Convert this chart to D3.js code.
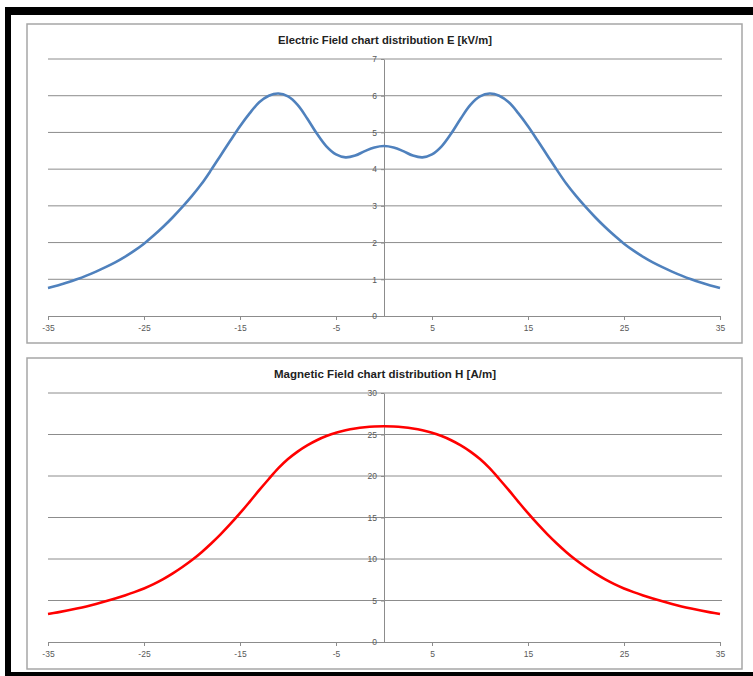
<!DOCTYPE html>
<html lang="en">
<head>
  <meta charset="UTF-8">
  <title>Field distribution</title>
  <style>
    body { margin: 0; background: #fff; }
    text { font-family: "Liberation Sans", Arial, sans-serif; }
  </style>
</head>
<body>
  <svg width="753" height="676"></svg>
  <script src="https://d3js.org/d3.v7.min.js"></script>
  <script>
    // distance along x (m)
    const xValues = [
      -35, -34, -33, -32, -31, -30, -29, -28, -27, -26, -25, -24, -23, -22, -21, -20, -19, -18,
      -17, -16, -15, -14, -13, -12, -11, -10, -9, -8, -7, -6, -5, -4, -3, -2, -1, 0,
      1, 2, 3, 4, 5, 6, 7, 8, 9, 10, 11, 12, 13, 14, 15, 16, 17, 18,
      19, 20, 21, 22, 23, 24, 25, 26, 27, 28, 29, 30, 31, 32, 33, 34, 35
    ];
    // E [kV/m]
    const eValues = [
      0.76, 0.83, 0.91, 1.00, 1.10, 1.21, 1.33, 1.46, 1.61, 1.78, 1.97, 2.19, 2.43, 2.69, 2.97, 3.27, 3.60, 3.98,
      4.38, 4.78, 5.17, 5.52, 5.82, 6.00, 6.06, 5.98, 5.75, 5.38, 4.97, 4.62, 4.40, 4.32, 4.37, 4.49, 4.59, 4.63,
      4.59, 4.49, 4.37, 4.32, 4.40, 4.62, 4.97, 5.38, 5.75, 5.98, 6.06, 6.00, 5.82, 5.52, 5.17, 4.78, 4.38, 3.98,
      3.60, 3.27, 2.97, 2.69, 2.43, 2.19, 1.97, 1.78, 1.61, 1.46, 1.33, 1.21, 1.10, 1.00, 0.91, 0.83, 0.76
    ];
    // H [A/m]
    const hValues = [
      3.37, 3.57, 3.79, 4.03, 4.29, 4.58, 4.90, 5.24, 5.61, 6.01, 6.45, 6.97, 7.57, 8.26, 9.03, 9.87, 10.82, 11.87,
      13.00, 14.22, 15.52, 16.89, 18.29, 19.64, 20.94, 22.04, 22.94, 23.69, 24.31, 24.81, 25.21, 25.51, 25.73, 25.88, 25.97, 26.00,
      25.97, 25.88, 25.73, 25.51, 25.21, 24.81, 24.31, 23.69, 22.94, 22.04, 20.94, 19.64, 18.29, 16.89, 15.52, 14.22, 13.00, 11.87,
      10.82, 9.87, 9.03, 8.26, 7.57, 6.97, 6.45, 6.01, 5.61, 5.24, 4.90, 4.58, 4.29, 4.03, 3.79, 3.57, 3.37
    ];
    const xTicks = [-35, -25, -15, -5, 5, 15, 25, 35];
    const eTicks = [0, 1, 2, 3, 4, 5, 6, 7];
    const hTicks = [0, 5, 10, 15, 20, 25, 30];

    const svg = d3.select("svg");

    // black frame (top, left, bottom)
    svg.append("rect").attr("x", 5).attr("y", 7).attr("width", 748).attr("height", 8).attr("fill", "#000");
    svg.append("rect").attr("x", 5).attr("y", 7).attr("width", 6).attr("height", 669).attr("fill", "#000");
    svg.append("rect").attr("x", 5).attr("y", 672).attr("width", 748).attr("height", 4).attr("fill", "#000");

    const x = d3.scaleLinear().domain([-35, 35]).range([48, 720]);
    const plain = d => String(d);

    function drawChart(opt) {
      const g = svg.append("g");
      g.append("rect")
        .attr("x", opt.box[0]).attr("y", opt.box[1])
        .attr("width", opt.box[2]).attr("height", opt.box[3])
        .attr("fill", "#fff").attr("stroke", "#a6a6a6").attr("stroke-width", 1.5);

      g.append("text")
        .attr("x", 385).attr("y", opt.titleY)
        .attr("text-anchor", "middle")
        .attr("font-size", 10).attr("font-weight", "bold").attr("fill", "#222")
        .attr("textLength", opt.titleWidth).attr("lengthAdjust", "spacingAndGlyphs")
        .text(opt.title);

      const y = d3.scaleLinear().domain(opt.yDomain).range(opt.yRange);

      // horizontal gridlines
      g.append("g").selectAll("line").data(opt.yTicks.slice(1)).join("line")
        .attr("x1", x(-35)).attr("x2", x(35) + 2)
        .attr("y1", d => y(d)).attr("y2", d => y(d))
        .attr("stroke", "#8c8c8c").attr("stroke-width", 1);

      // x axis
      const xAxis = g.append("g")
        .attr("transform", `translate(0,${y(0)})`)
        .call(d3.axisBottom(x).tickValues(xTicks).tickFormat(plain)
          .tickSize(4).tickSizeOuter(0).tickPadding(5));
      xAxis.select(".domain").attr("stroke", "#8c8c8c");
      xAxis.selectAll(".tick line").attr("stroke", "#8c8c8c");
      xAxis.selectAll(".tick text").attr("fill", "#595959").attr("font-size", 8.5)
        .attr("font-family", "Liberation Sans, Arial, sans-serif");

      // y axis at x = 0
      const yAxis = g.append("g")
        .attr("transform", `translate(${x(0)},0)`)
        .call(d3.axisLeft(y).tickValues(opt.yTicks).tickFormat(plain)
          .tickSize(3).tickSizeOuter(0).tickPadding(4));
      yAxis.select(".domain").attr("stroke", "#8c8c8c");
      yAxis.selectAll(".tick line").attr("stroke", "#8c8c8c");
      yAxis.selectAll(".tick text").attr("fill", "#595959").attr("font-size", 8.5)
        .attr("font-family", "Liberation Sans, Arial, sans-serif");

      const line = d3.line()
        .x((d, i) => x(xValues[i]))
        .y(d => y(d))
        .curve(d3.curveCatmullRom.alpha(0.5));

      g.append("path").datum(opt.values)
        .attr("fill", "none")
        .attr("stroke", opt.color)
        .attr("stroke-width", 2.6)
        .attr("stroke-linejoin", "round")
        .attr("d", line);
    }

    drawChart({
      box: [27, 24, 715, 319],
      title: "Electric Field chart distribution E [kV/m]",
      titleWidth: 214,
      titleY: 44,
      yDomain: [0, 7],
      yRange: [316, 59],
      yTicks: eTicks,
      values: eValues,
      color: "#4f81bd"
    });

    drawChart({
      box: [27, 358, 715, 311],
      title: "Magnetic Field chart distribution H [A/m]",
      titleWidth: 222,
      titleY: 378,
      yDomain: [0, 30],
      yRange: [642, 393],
      yTicks: hTicks,
      values: hValues,
      color: "#ff0000"
    });
  </script>
</body>
</html>
